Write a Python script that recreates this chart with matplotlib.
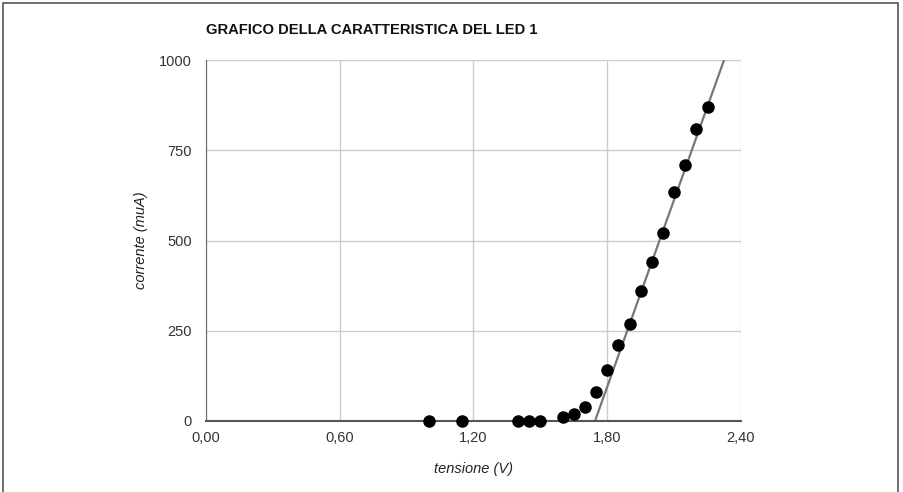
import matplotlib
matplotlib.use('Agg')
import matplotlib.pyplot as plt
from matplotlib.patches import Rectangle
from matplotlib.ticker import FuncFormatter

plt.rcParams['font.family'] = ['Liberation Sans', 'DejaVu Sans']

# measured points (tensione in V, corrente in muA)
tensione = [1.00, 1.15, 1.40, 1.45, 1.50, 1.60, 1.65, 1.70, 1.75, 1.80,
            1.85, 1.90, 1.95, 2.00, 2.05, 2.10, 2.15, 2.20, 2.25]
corrente = [0, 0, 0, 0, 0, 10, 20, 40, 80, 140,
            210, 270, 360, 440, 520, 635, 710, 810, 870]

# linear trend line endpoints
fit_x = [1.745, 2.324]
fit_y = [0, 1000]

x_ticks = [0.0, 0.6, 1.2, 1.8, 2.4]
y_ticks = [0, 250, 500, 750, 1000]

fig = plt.figure(figsize=(9.04, 4.92), dpi=100)
ax = fig.add_axes([206 / 904, 1 - 421 / 492, 535 / 904, 361 / 492])

ax.plot(fit_x, fit_y, color='#777777', lw=1.6, zorder=2)
ax.plot(tensione, corrente, 'o', color='black', markersize=8, zorder=3, clip_on=False)

ax.set_xlim(0, 2.4)
ax.set_ylim(0, 1000)
ax.set_xticks(x_ticks)
ax.set_yticks(y_ticks)
ax.xaxis.set_major_formatter(FuncFormatter(lambda v, p: f'{v:.2f}'.replace('.', ',')))
ax.grid(True, color='#cccccc', lw=1)
ax.set_axisbelow(True)
ax.tick_params(length=0, labelsize=10.5, labelcolor='#333333')
ax.tick_params(axis='y', pad=10)
ax.tick_params(axis='x', pad=7)

for s in ['top', 'right']:
    ax.spines[s].set_visible(False)
ax.spines['left'].set_color('#666666')
ax.spines['bottom'].set_color('#555555')
ax.spines['bottom'].set_linewidth(1.5)

ax.set_xlabel('tensione (V)', fontsize=10.5, style='italic', color='#222222')
ax.set_ylabel('corrente (muA)', fontsize=10.5, style='italic', color='#222222')
ax.xaxis.set_label_coords(0.5, (421 - 469) / 361)
ax.yaxis.set_label_coords((141 - 206) / 535, 0.5)
ax.xaxis.label.set_va('center')
ax.yaxis.label.set_va('center')

fig.text(206 / 904, 1 - 30 / 492, 'GRAFICO DELLA CARATTERISTICA DEL LED 1',
         fontsize=10.6, fontweight='bold', color='#111111', va='center', ha='left')

fig.patches.append(Rectangle((3 / 904, -10 / 492), 895 / 904, 499 / 492, transform=fig.transFigure,
                             fill=False, edgecolor='#555555', lw=1.2))

fig.savefig('out.png', dpi=100)
